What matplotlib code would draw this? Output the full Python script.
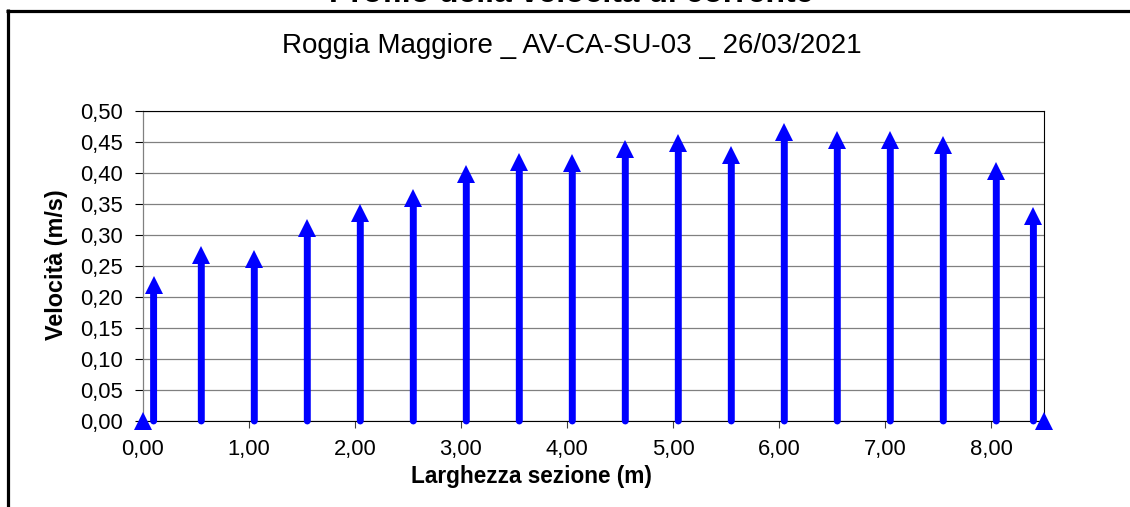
import matplotlib
matplotlib.use("Agg")
import matplotlib.pyplot as plt
from matplotlib.ticker import FuncFormatter
from matplotlib.transforms import offset_copy
from matplotlib.lines import Line2D

plt.rcParams['font.family'] = ['Liberation Sans', 'DejaVu Sans']

# ---- data ----
positions = [0.00, 0.10, 0.55, 1.05, 1.55, 2.05, 2.55, 3.05, 3.55, 4.05,
             4.55, 5.05, 5.55, 6.05, 6.55, 7.05, 7.55, 8.05, 8.40, 8.50]
velocities = [0.000, 0.234, 0.283, 0.276, 0.326, 0.351, 0.375, 0.413, 0.433, 0.431,
              0.454, 0.463, 0.444, 0.482, 0.469, 0.469, 0.460, 0.418, 0.345, 0.000]
x_ticks = [0, 1, 2, 3, 4, 5, 6, 7, 8]
y_ticks = [0.00, 0.05, 0.10, 0.15, 0.20, 0.25, 0.30, 0.35, 0.40, 0.45, 0.50]

sup_title = "Profilo della velocità di corrente"
chart_title = "Roggia Maggiore _ AV-CA-SU-03 _ 26/03/2021"
x_label = "Larghezza sezione (m)"
y_label = "Velocità (m/s)"

W, H = 1130, 507
fig = plt.figure(figsize=(W / 100, H / 100), dpi=100)
ax = fig.add_axes([143 / W, 1 - 421 / H, (1044 - 143) / W, (421 - 111) / H])

ax.set_xlim(0, 8.5)
ax.set_ylim(0, 0.5)

arrow_color = '#0000FF'
head_ms = 13.5  # points
head_tf = offset_copy(ax.transData, fig=fig, x=0, y=-head_ms / 2, units='points')

for x, v in zip(positions, velocities):
    if v > 0:
        ax.annotate('', xy=(x, v), xytext=(x, 0),
                    arrowprops=dict(arrowstyle='-', lw=5.0, color=arrow_color,
                                    shrinkA=0, shrinkB=head_ms - 2),
                    annotation_clip=False, zorder=3)
        ax.plot([x], [v], marker='^', ms=head_ms, mew=0, color=arrow_color,
                transform=head_tf, clip_on=False, zorder=4)
    else:
        ax.plot([x], [v], marker='^', ms=head_ms, mew=0, color=arrow_color,
                clip_on=False, zorder=4)

# axes styling
ax.set_xticks(x_ticks)
ax.set_yticks(y_ticks)
comma = FuncFormatter(lambda val, pos: f"{val:.2f}".replace('.', ','))
ax.xaxis.set_major_formatter(comma)
ax.yaxis.set_major_formatter(comma)
ax.tick_params(axis='y', direction='out', length=5.8, width=0.8, color='black',
               labelsize=15.8, pad=8.5)
ax.tick_params(axis='x', direction='out', length=5, width=0.8, color='#404040',
               labelsize=15.8, pad=8)
ax.yaxis.grid(True, color='#808080', lw=0.9)
ax.set_axisbelow(True)
for side in ['top', 'right', 'bottom']:
    ax.spines[side].set_color('black')
    ax.spines[side].set_linewidth(0.8)
ax.spines['left'].set_color('#808080')
ax.spines['left'].set_linewidth(0.9)

# texts
fig.text(571 / W, 1 - 2.5 / H, sup_title, ha='center', va='baseline',
         fontsize=23, fontweight='bold')
fig.text(572 / W, 1 - 53 / H, chart_title, ha='center', va='baseline', fontsize=20)
fig.text(57 / W, 1 - 265 / H, y_label, ha='center', va='center', rotation=90,
         fontsize=16.8, fontweight='bold')
fig.text(531 / W, 1 - 477 / H, x_label, ha='center', va='center',
         fontsize=16.3, fontweight='bold')

# outer frame (top and left edges visible)
fig.add_artist(Line2D([6 / W, 1], [1 - 10.5 / H, 1 - 10.5 / H], color='black',
                      lw=2.3, transform=fig.transFigure, solid_capstyle='butt'))
fig.add_artist(Line2D([7.5 / W, 7.5 / W], [1 - 9.4 / H, 0], color='black',
                      lw=2.3, transform=fig.transFigure, solid_capstyle='butt'))

fig.savefig('out.png', dpi=100)
